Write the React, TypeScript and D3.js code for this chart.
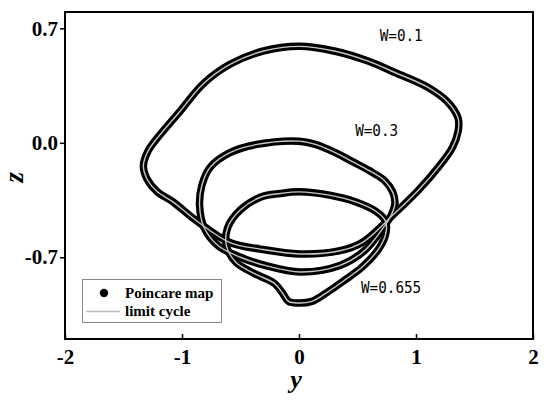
import React, { useRef, useEffect } from 'react'
import * as d3 from 'd3'

// limit cycles, [y, z]
const cycleW01: [number, number][] = [
  [0.0, 0.59], [0.31, 0.56], [0.59, 0.5], [0.82, 0.43], [1.1, 0.34], [1.27, 0.25],
  [1.36, 0.15], [1.36, 0.07], [1.31, -0.03], [1.19, -0.15], [1.02, -0.29], [0.82, -0.43],
  [0.54, -0.61], [0.35, -0.66], [0.01, -0.68], [-0.33, -0.65], [-0.59, -0.61], [-0.87, -0.48],
  [-1.08, -0.36], [-1.21, -0.3], [-1.3, -0.22], [-1.33, -0.14], [-1.29, -0.05], [-1.21, 0.03],
  [-1.02, 0.19], [-0.82, 0.36], [-0.59, 0.48], [-0.31, 0.56],
]
const cycleW03: [number, number][] = [
  [0.0, 0.01], [0.14, -0.01], [0.31, -0.06], [0.47, -0.12], [0.6, -0.17], [0.73, -0.23],
  [0.8, -0.3], [0.82, -0.37], [0.79, -0.44], [0.72, -0.52], [0.56, -0.66], [0.35, -0.75],
  [0.01, -0.79], [-0.29, -0.75], [-0.5, -0.7], [-0.69, -0.63], [-0.81, -0.52], [-0.85, -0.38],
  [-0.83, -0.26], [-0.76, -0.15], [-0.59, -0.06], [-0.36, -0.01],
]
const cycleW0655: [number, number][] = [
  [0.0, -0.3], [0.26, -0.32], [0.48, -0.36], [0.66, -0.42], [0.74, -0.48], [0.74, -0.56],
  [0.68, -0.65], [0.54, -0.76], [0.39, -0.84], [0.25, -0.91], [0.11, -0.97], [-0.01, -0.98],
  [-0.09, -0.97], [-0.14, -0.92], [-0.21, -0.86], [-0.38, -0.8], [-0.54, -0.73], [-0.62, -0.63],
  [-0.61, -0.52], [-0.5, -0.41], [-0.32, -0.33], [-0.16, -0.31],
]
const cycles = [cycleW01, cycleW03, cycleW0655]

const labels = ['W=0.1', 'W=0.3', 'W=0.655']
const labelPos: [number, number][] = [[0.69, 0.62], [0.48, 0.04], [0.53, -0.92]]

const xTicks = [-2, -1, 0, 1, 2]
const yTicks = [0.7, 0.0, -0.7]

const W = 550
const H = 404
const margin = { top: 12, right: 17, bottom: 65, left: 65 }

// plain hyphen instead of d3's unicode minus
const fmt = (f: string) => (d: number) => d3.format(f)(d).replace('\u2212', '-')

export default function App() {
  const ref = useRef<SVGSVGElement>(null)

  useEffect(() => {
    const svg = d3.select(ref.current)
    svg.selectAll('*').remove()

    const x = d3.scaleLinear().domain([-2, 2]).range([margin.left, W - margin.right])
    const y = d3.scaleLinear().domain([-1.2, 0.8]).range([H - margin.bottom, margin.top])

    const line = d3
      .line<[number, number]>()
      .x(d => x(d[0]))
      .y(d => y(d[1]))
      .curve(d3.curveCatmullRomClosed.alpha(0.5))

    // poincare points (black band) with the limit cycle on top
    const g = svg.append('g')
    cycles.forEach(c => {
      g.append('path')
        .attr('d', line(c))
        .attr('fill', 'none')
        .attr('stroke', '#000')
        .attr('stroke-width', 7.5)
    })
    cycles.forEach(c => {
      g.append('path')
        .attr('d', line(c))
        .attr('fill', 'none')
        .attr('stroke', '#c8c8c8')
        .attr('stroke-width', 1.4)
    })

    // frame
    svg
      .append('rect')
      .attr('x', margin.left)
      .attr('y', margin.top)
      .attr('width', W - margin.left - margin.right)
      .attr('height', H - margin.top - margin.bottom)
      .attr('fill', 'none')
      .attr('stroke', '#000')
      .attr('stroke-width', 2)

    const xAxis = svg
      .append('g')
      .attr('transform', `translate(0,${H - margin.bottom})`)
      .call(d3.axisBottom(x).tickValues(xTicks).tickSize(-5).tickPadding(10).tickFormat(fmt('d')))
    xAxis.select('.domain').remove()

    const yAxis = svg
      .append('g')
      .attr('transform', `translate(${margin.left},0)`)
      .call(d3.axisLeft(y).tickValues(yTicks).tickSize(5).tickPadding(2).tickFormat(fmt('.1f')))
    yAxis.select('.domain').remove()

    svg
      .selectAll('.tick line')
      .attr('stroke', '#000')
      .attr('stroke-width', 1.5)
    svg
      .selectAll('.tick text')
      .attr('font-family', 'Liberation Serif, Times New Roman, serif')
      .attr('font-weight', 'bold')
      .attr('font-size', 21)
      .attr('fill', '#000')

    // axis titles
    svg
      .append('text')
      .attr('x', x(0) - 3)
      .attr('y', 388)
      .attr('text-anchor', 'middle')
      .attr('font-family', 'Liberation Serif, serif')
      .attr('font-style', 'italic')
      .attr('font-weight', 'bold')
      .attr('font-size', 26)
      .text('y')
    svg
      .append('text')
      .attr('transform', `translate(23,${y(-0.21)}) rotate(-90)`)
      .attr('text-anchor', 'middle')
      .attr('font-family', 'Liberation Serif, serif')
      .attr('font-style', 'italic')
      .attr('font-weight', 'bold')
      .attr('font-size', 27)
      .text('z')

    // W labels
    labels.forEach((t, i) => {
      svg
        .append('text')
        .attr('x', x(labelPos[i][0]))
        .attr('y', y(labelPos[i][1]))
        .attr('font-family', 'DejaVu Sans Mono, monospace')
        .attr('font-size', 16)
        .attr('textLength', t.length * 8.6)
        .attr('lengthAdjust', 'spacingAndGlyphs')
        .attr('fill', '#000')
        .text(t)
    })

    // legend
    const lg = svg.append('g')
    lg.append('rect')
      .attr('x', 82.5)
      .attr('y', 279.5)
      .attr('width', 139)
      .attr('height', 43)
      .attr('fill', '#fff')
      .attr('stroke', '#888')
      .attr('stroke-width', 1)
    lg.append('circle').attr('cx', 104).attr('cy', 293).attr('r', 4.2).attr('fill', '#000')
    lg.append('line')
      .attr('x1', 86)
      .attr('x2', 120)
      .attr('y1', 311.5)
      .attr('y2', 311.5)
      .attr('stroke', '#bbb')
      .attr('stroke-width', 1.5)
    const legendText = ['Poincare map', 'limit cycle']
    legendText.forEach((t, i) => {
      lg.append('text')
        .attr('x', 125)
        .attr('y', 298 + i * 18)
        .attr('font-family', 'Liberation Serif, serif')
        .attr('font-weight', 'bold')
        .attr('font-size', 15)
        .text(t)
    })
  }, [])

  return (
    <div style={{ position: 'absolute', left: 0, top: 0 }}>
      <svg ref={ref} width={W} height={H} style={{ display: 'block', background: '#fff' }} />
    </div>
  )
}
